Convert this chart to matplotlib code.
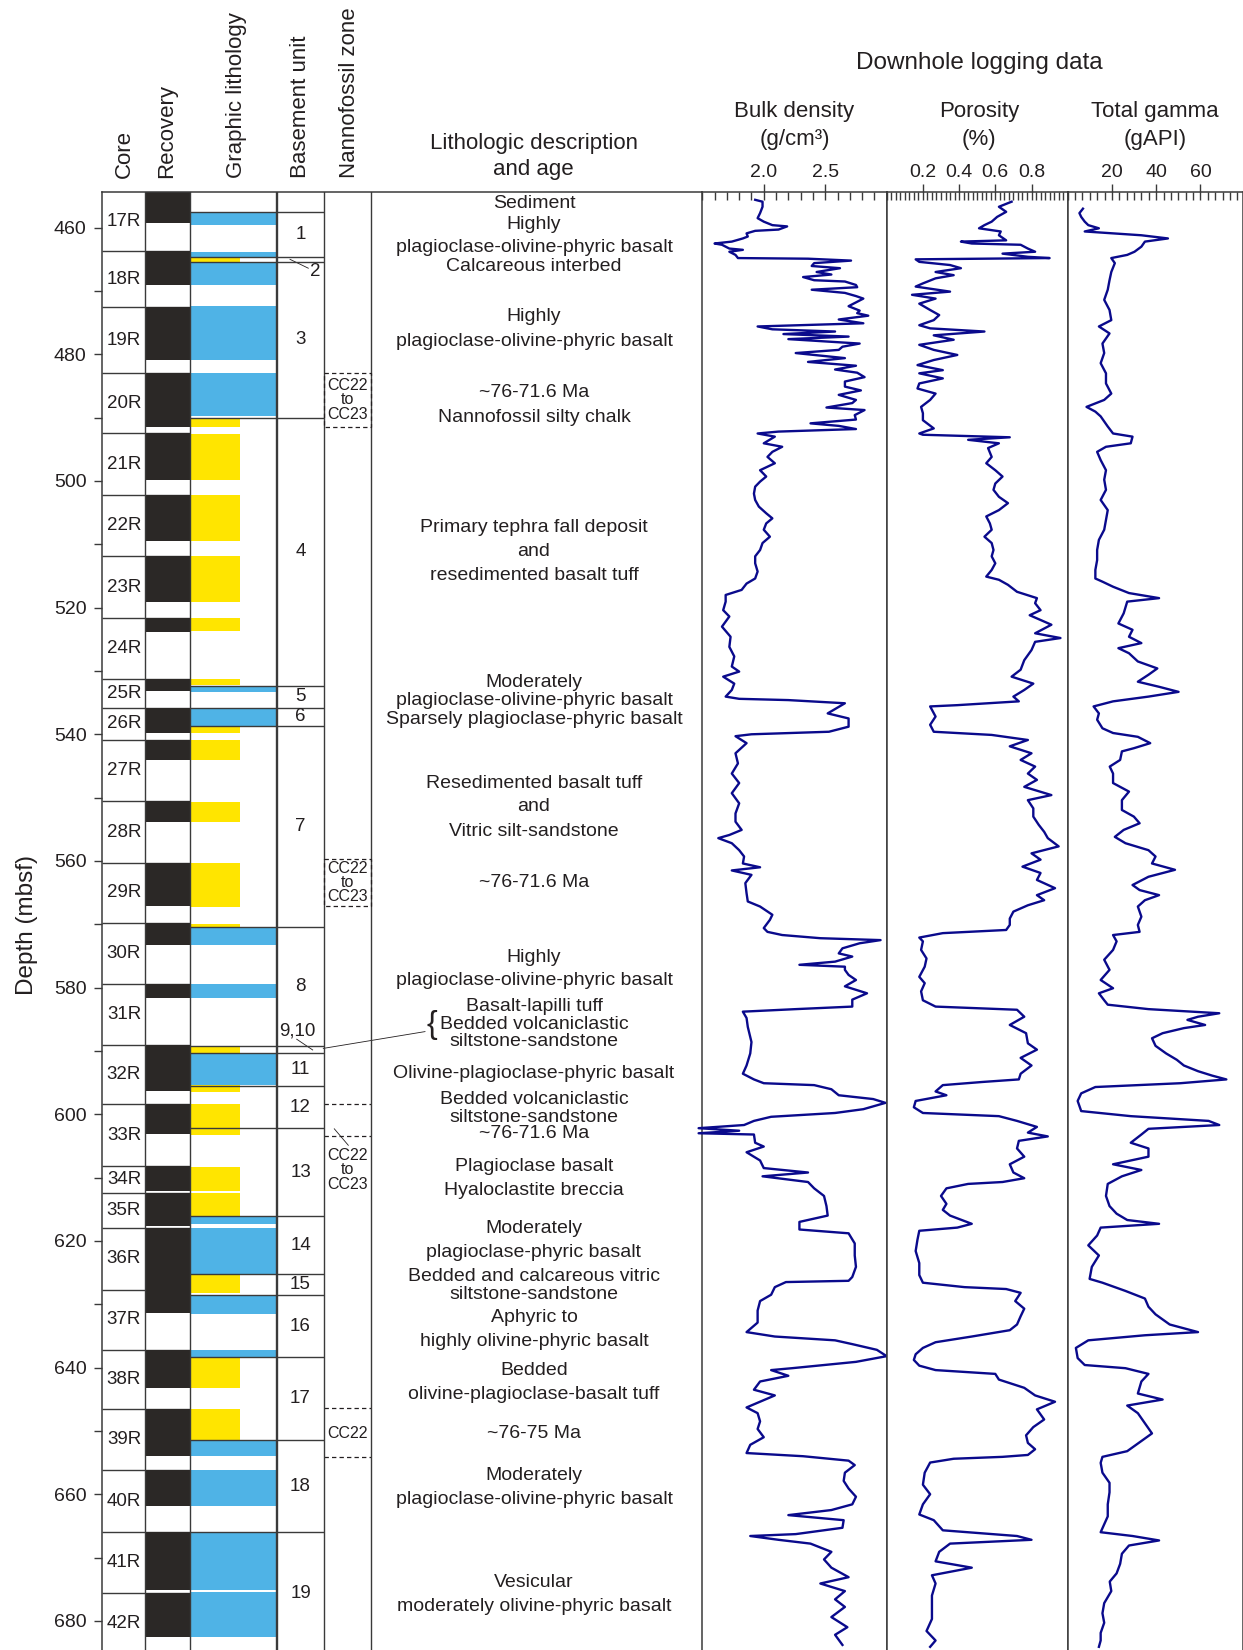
import matplotlib.pyplot as plt
from matplotlib.patches import Rectangle
from matplotlib.ticker import MultipleLocator

plt.rcParams['font.family'] = ['Liberation Sans', 'DejaVu Sans']

# ---- data (depths in mbsf) ----
core_names = ['17R', '18R', '19R', '20R', '21R', '22R', '23R', '24R', '25R', '26R', '27R', '28R', '29R',
              '30R', '31R', '32R', '33R', '34R', '35R', '36R', '37R', '38R', '39R', '40R', '41R', '42R']
core_top = [454.3, 463.7, 472.6, 482.9, 492.5, 502.2, 511.9, 521.6, 531.2, 535.8, 540.9, 550.6, 560.3,
            569.8, 579.4, 589.0, 598.4, 608.2, 612.4, 617.9, 627.7, 637.2, 646.5, 656.2, 666.0, 675.6]
core_bot = core_top[1:] + [685.3]

rec_top = [454.3, 463.7, 472.6, 482.9, 492.5, 502.2, 511.9, 521.6, 531.2, 535.8, 540.9, 550.6, 560.3,
           569.8, 579.4, 589.0, 598.4, 608.2, 612.4, 617.9, 627.7, 637.2, 646.5, 656.2, 666.0, 675.6]
rec_bot = [459.2, 469.1, 480.9, 491.4, 499.8, 509.4, 519.05, 523.8, 533.2, 539.8, 544.05, 553.8, 567.1,
           573.2, 581.6, 596.3, 603.05, 612.1, 617.6, 627.7, 631.4, 643.2, 654.0, 661.8, 675.2, 682.5]

basalt_top = [457.6, 463.9, 465.6, 472.4, 483.0, 532.4, 535.8, 570.6, 579.4, 590.3, 616.2, 617.9,
              628.6, 637.2, 651.5, 656.2, 666.0, 675.5]
basalt_bot = [459.5, 464.7, 469.05, 480.9, 489.7, 533.3, 538.7, 573.2, 581.6, 595.45, 617.4, 625.2,
              631.6, 638.4, 654.0, 661.8, 675.2, 682.5]
sed_top = [464.7, 490.1, 492.6, 502.2, 511.9, 521.7, 531.2, 538.7, 540.9, 550.7, 560.4, 569.9, 589.35,
           595.45, 598.4, 608.3, 612.4, 625.4, 638.4, 646.5]
sed_bot = [465.4, 491.4, 499.8, 509.4, 519.05, 523.7, 532.2, 539.8, 544.05, 553.8, 567.2, 570.6, 590.3,
           596.5, 603.2, 612.1, 616.0, 628.3, 643.2, 651.4]

unit_names = ['1', '2', '3', '4', '5', '6', '7', '8', '9,10', '11', '12', '13', '14', '15', '16',
              '17', '18', '19']
unit_top = [457.6, 464.7, 465.4, 490.0, 532.4, 535.8, 538.7, 570.5, 589.2, 590.3, 595.6, 602.2, 616.1,
            625.2, 628.5, 638.4, 651.5, 666.0]
unit_bot = unit_top[1:] + [685.3]

zone_box_top = [482.9, 559.7]
zone_box_bot = [491.5, 567.1]
zone_box_text = ['CC22\nto\nCC23', 'CC22\nto\nCC23']
zone_line_top = [598.4, 646.4]
zone_line_bot = [603.4, 654.2]
zone_line_text = ['CC22\nto\nCC23', 'CC22']
zone_line_text_depth = [608.8, 650.4]

desc_text = ['Sediment', 'Highly', 'plagioclase-olivine-phyric basalt', 'Calcareous interbed',
             'Highly', 'plagioclase-olivine-phyric basalt', '~76-71.6 Ma', 'Nannofossil silty chalk',
             'Primary tephra fall deposit', 'and', 'resedimented basalt tuff',
             'Moderately', 'plagioclase-olivine-phyric basalt', 'Sparsely plagioclase-phyric basalt',
             'Resedimented basalt tuff', 'and', 'Vitric silt-sandstone', '~76-71.6 Ma',
             'Highly', 'plagioclase-olivine-phyric basalt', 'Basalt-lapilli tuff', 'Bedded volcaniclastic',
             'siltstone-sandstone', 'Olivine-plagioclase-phyric basalt', 'Bedded volcaniclastic',
             'siltstone-sandstone', '~76-71.6 Ma', 'Plagioclase basalt', 'Hyaloclastite breccia',
             'Moderately', 'plagioclase-phyric basalt', 'Bedded and calcareous vitric', 'siltstone-sandstone',
             'Aphyric to', 'highly olivine-phyric basalt', 'Bedded', 'olivine-plagioclase-basalt tuff',
             '~76-75 Ma', 'Moderately', 'plagioclase-olivine-phyric basalt', 'Vesicular',
             'moderately olivine-phyric basalt']
desc_depth = [456.2, 459.5, 463.2, 466.15, 474.1, 478.0, 486.1, 489.9, 507.4, 511.2, 515.0, 531.8, 534.65,
              537.6, 547.8, 551.4, 555.3, 563.4, 575.2, 578.9, 583.0, 585.85, 588.5, 593.5, 597.65, 600.5,
              603.1, 608.3, 612.1, 618.1, 621.8, 625.6, 628.4, 632.1, 635.9, 640.4, 644.2, 650.4, 657.0,
              660.8, 674.0, 677.8]

bd_depth = [455.6, 455.9, 456.7, 457.7, 458.5, 459.05, 459.6, 459.8, 460.3, 460.5, 460.9, 461.4, 461.7,
            462.2, 462.5, 462.7, 463.3, 463.5, 463.8, 464.3, 464.8, 464.9, 465.2, 465.6, 466.05, 466.4,
            467.0, 467.4, 467.8, 468.3, 468.5, 469.05, 469.4, 469.8, 470.3, 470.8, 471.2, 471.7, 472.4,
            473.1, 473.5, 473.9, 474.5, 475.1, 475.6, 476.05, 476.4, 476.8, 477.2, 477.6, 478.3, 478.8,
            479.3, 479.8, 480.6, 481.2, 481.8, 482.4, 482.9, 483.6, 484.3, 485.1, 485.7, 486.4, 487.2,
            487.7, 488.4, 488.8, 489.6, 490.3, 490.9, 491.3, 491.8, 492.2, 492.5, 493.0, 494.05, 494.6,
            495.4, 496.2, 497.2, 498.3, 499.3, 500.1, 500.9, 502.0, 503.0, 504.05, 505.1, 505.9, 506.7,
            507.7, 508.8, 509.8, 510.9, 511.9, 513.0, 514.3, 515.4, 516.2, 517.2, 518.0, 519.05, 520.4,
            521.4, 523.0, 524.6, 526.2, 527.7, 529.3, 530.1, 530.9, 532.0, 533.0, 534.05, 534.4, 534.6,
            535.1, 536.7, 537.5, 538.8, 539.6, 540.0, 540.3, 541.4, 543.0, 544.6, 546.2, 547.7, 549.3,
            550.9, 552.5, 553.8, 555.1, 555.9, 556.4, 557.2, 558.3, 559.3, 560.4, 561.0, 561.5, 562.2,
            563.5, 565.1, 566.4, 567.2, 568.5, 569.3, 570.6, 571.2, 571.7, 572.2, 572.5, 573.0, 573.8,
            574.6, 575.1, 575.9, 576.4, 576.7, 577.2, 578.0, 578.8, 579.8, 580.9, 581.9, 583.0, 583.4,
            583.8, 584.8, 586.2, 588.6, 590.4, 592.3, 593.6, 594.5, 595.1, 595.4, 596.05, 597.0, 597.6,
            598.2, 599.2, 599.8, 600.4, 601.05, 601.7, 602.2, 602.6, 603.0, 603.2, 604.5, 605.1, 606.0,
            607.3, 608.5, 609.2, 609.8, 610.7, 611.7, 612.9, 614.5, 616.0, 617.0, 618.2, 618.8, 620.4,
            622.3, 624.1, 625.7, 626.3, 626.5, 627.3, 628.5, 629.5, 631.0, 632.9, 634.4, 635.1, 635.7,
            636.3, 637.2, 638.2, 639.1, 640.1, 640.4, 641.3, 642.2, 643.5, 644.4, 645.4, 646.3, 647.2,
            648.5, 649.7, 651.0, 652.2, 653.5, 654.0, 654.7, 655.4, 656.6, 657.9, 659.1, 660.4, 661.6,
            662.5, 663.3, 664.1, 665.3, 666.3, 666.6, 667.2, 667.8, 669.1, 670.3, 671.6, 673.1, 674.1,
            675.3, 676.6, 677.8, 679.4, 681.0, 682.2, 683.8]
bd_val = [1.93, 1.99, 1.99, 1.97, 1.95, 2.00, 2.07, 2.19, 2.12, 1.93, 1.86, 1.87, 1.83,
          1.74, 1.60, 1.66, 1.72, 1.83, 1.72, 1.77, 1.79, 2.36, 2.71, 2.41, 2.39, 2.62,
          2.43, 2.55, 2.32, 2.41, 2.66, 2.75, 2.76, 2.39, 2.66, 2.75, 2.81, 2.76, 2.69,
          2.78, 2.76, 2.85, 2.61, 2.81, 1.95, 2.07, 2.58, 2.16, 2.69, 2.20, 2.78, 2.64,
          2.61, 2.26, 2.66, 2.36, 2.75, 2.58, 2.76, 2.82, 2.66, 2.66, 2.79, 2.61, 2.75,
          2.72, 2.51, 2.82, 2.74, 2.75, 2.38, 2.61, 2.75, 2.12, 1.95, 2.09, 2.00, 2.15,
          2.07, 2.03, 2.09, 1.97, 2.02, 1.97, 1.93, 1.92, 1.93, 1.96, 2.02, 2.07, 2.02,
          2.00, 2.05, 1.99, 1.97, 1.93, 1.93, 1.95, 1.93, 1.86, 1.82, 1.69, 1.69, 1.67,
          1.72, 1.66, 1.73, 1.72, 1.76, 1.74, 1.80, 1.67, 1.76, 1.74, 1.69, 1.80, 2.20,
          2.66, 2.52, 2.69, 2.69, 2.53, 1.90, 1.77, 1.86, 1.77, 1.79, 1.74, 1.80, 1.74,
          1.80, 1.77, 1.77, 1.82, 1.72, 1.63, 1.74, 1.80, 1.84, 1.83, 1.97, 1.74, 1.90,
          1.85, 1.86, 1.87, 1.97, 2.07, 2.05, 2.00, 2.03, 2.15, 2.46, 2.95, 2.78, 2.64,
          2.61, 2.72, 2.58, 2.29, 2.66, 2.66, 2.69, 2.75, 2.66, 2.84, 2.72, 2.72, 2.26,
          1.83, 1.86, 1.87, 1.90, 1.89, 1.86, 1.83, 1.92, 2.00, 2.41, 2.55, 2.61, 2.89,
          2.99, 2.81, 2.58, 2.06, 1.92, 1.84, 1.47, 1.80, 1.47, 1.92, 1.93, 2.00, 1.86,
          1.97, 2.00, 2.36, 1.99, 2.36, 2.41, 2.49, 2.51, 2.52, 2.29, 2.29, 2.69, 2.74,
          2.74, 2.75, 2.72, 2.69, 2.18, 2.09, 2.06, 1.97, 1.95, 1.95, 1.86, 2.09, 2.58,
          2.72, 2.92, 3.00, 2.75, 2.23, 2.06, 2.20, 1.97, 1.92, 2.09, 1.97, 1.86, 1.95,
          1.97, 1.95, 2.00, 1.89, 1.86, 2.32, 2.69, 2.74, 2.66, 2.65, 2.69, 2.75, 2.72,
          2.55, 2.20, 2.65, 2.64, 2.26, 1.89, 2.12, 2.38, 2.55, 2.49, 2.55, 2.69, 2.46,
          2.66, 2.58, 2.66, 2.55, 2.68, 2.58, 2.64]

por_depth = [455.9, 456.7, 457.5, 458.3, 459.05, 459.6, 460.1, 460.6, 461.2, 462.0, 462.2, 462.5, 462.7,
             463.3, 463.8, 464.1, 464.6, 464.8, 465.0, 465.4, 465.9, 466.4, 467.0, 467.5, 468.0, 468.8,
             469.3, 470.1, 470.6, 471.2, 472.0, 473.0, 473.8, 474.6, 475.4, 475.9, 476.4, 477.0, 477.7,
             478.5, 479.3, 480.1, 480.9, 481.7, 482.5, 483.0, 483.8, 484.6, 485.4, 486.2, 487.2, 488.3,
             489.3, 490.4, 491.7, 492.5, 492.7, 493.1, 493.5, 494.05, 494.8, 496.2, 497.2, 498.3, 499.3,
             500.4, 501.4, 502.5, 503.5, 504.6, 505.6, 506.7, 507.7, 508.8, 509.8, 510.9, 511.9, 513.0,
             514.05, 515.1, 515.6, 516.4, 517.5, 518.5, 519.3, 520.4, 521.2, 522.7, 524.05, 524.8, 525.4,
             526.7, 528.3, 529.8, 530.9, 532.0, 533.0, 534.05, 534.8, 535.4, 535.6, 537.2, 538.5, 539.6,
             540.1, 540.9, 541.9, 543.0, 544.05, 545.1, 546.2, 547.2, 548.3, 549.6, 550.4, 551.7, 553.0,
             554.3, 555.4, 556.4, 557.7, 558.8, 559.8, 560.9, 561.9, 563.0, 564.3, 565.4, 566.2, 567.0,
             568.0, 569.1, 570.1, 570.9, 571.4, 572.1, 572.7, 574.05, 575.4, 576.7, 578.3, 579.3, 580.6,
             582.0, 583.0, 583.5, 584.6, 585.9, 587.2, 588.8, 589.8, 591.1, 592.3, 593.6, 594.5, 594.9,
             595.4, 596.4, 597.0, 597.9, 598.9, 599.8, 600.3, 601.05, 602.0, 602.9, 603.5, 604.2, 605.4,
             606.7, 607.9, 609.2, 610.1, 610.7, 611.0, 611.7, 612.9, 614.15, 615.1, 616.0, 617.3, 617.9,
             618.4, 619.8, 621.6, 623.5, 625.4, 626.6, 627.3, 627.6, 628.2, 629.5, 630.7, 631.9, 633.2,
             634.1, 635.1, 636.0, 636.9, 637.9, 638.8, 639.7, 640.4, 641.0, 641.9, 643.2, 644.4, 645.4,
             646.6, 648.2, 649.4, 650.7, 651.9, 652.9, 653.8, 654.1, 654.4, 655.0, 656.6, 658.5, 660.0,
             661.6, 663.2, 664.1, 665.7, 666.6, 667.2, 667.8, 669.1, 670.6, 671.6, 672.8, 674.1, 676.0,
             677.8, 679.7, 681.6, 683.1, 684.1]
por_val = [0.69, 0.62, 0.66, 0.61, 0.58, 0.54, 0.51, 0.63, 0.62, 0.66, 0.41, 0.47, 0.74,
           0.78, 0.82, 0.64, 0.78, 0.90, 0.16, 0.18, 0.35, 0.41, 0.27, 0.37, 0.27, 0.20,
           0.16, 0.35, 0.14, 0.27, 0.18, 0.24, 0.29, 0.26, 0.18, 0.24, 0.54, 0.26, 0.37,
           0.18, 0.26, 0.39, 0.26, 0.17, 0.31, 0.18, 0.31, 0.18, 0.17, 0.27, 0.24, 0.19,
           0.20, 0.20, 0.26, 0.18, 0.20, 0.68, 0.45, 0.62, 0.56, 0.58, 0.55, 0.60, 0.64,
           0.60, 0.59, 0.62, 0.67, 0.62, 0.55, 0.57, 0.58, 0.54, 0.58, 0.59, 0.58, 0.60,
           0.58, 0.55, 0.62, 0.67, 0.72, 0.83, 0.82, 0.85, 0.79, 0.91, 0.82, 0.96, 0.82,
           0.80, 0.76, 0.74, 0.69, 0.81, 0.76, 0.70, 0.73, 0.39, 0.24, 0.27, 0.24, 0.26,
           0.58, 0.78, 0.68, 0.80, 0.74, 0.82, 0.78, 0.83, 0.76, 0.91, 0.78, 0.81, 0.81,
           0.84, 0.87, 0.89, 0.95, 0.80, 0.85, 0.75, 0.85, 0.83, 0.93, 0.83, 0.87, 0.78,
           0.70, 0.68, 0.68, 0.66, 0.31, 0.18, 0.20, 0.19, 0.22, 0.21, 0.18, 0.21, 0.19,
           0.20, 0.27, 0.72, 0.76, 0.68, 0.77, 0.78, 0.83, 0.74, 0.80, 0.74, 0.73, 0.53,
           0.31, 0.27, 0.33, 0.16, 0.15, 0.20, 0.62, 0.72, 0.83, 0.78, 0.89, 0.73, 0.72,
           0.76, 0.68, 0.70, 0.76, 0.64, 0.45, 0.33, 0.30, 0.33, 0.31, 0.35, 0.47, 0.39,
           0.18, 0.17, 0.16, 0.18, 0.18, 0.20, 0.43, 0.66, 0.74, 0.71, 0.76, 0.74, 0.72,
           0.68, 0.47, 0.27, 0.20, 0.16, 0.15, 0.18, 0.27, 0.60, 0.62, 0.76, 0.82, 0.93,
           0.83, 0.87, 0.81, 0.77, 0.78, 0.82, 0.78, 0.64, 0.37, 0.24, 0.21, 0.20, 0.24,
           0.20, 0.18, 0.26, 0.31, 0.72, 0.80, 0.35, 0.29, 0.27, 0.47, 0.25, 0.27, 0.25,
           0.25, 0.25, 0.22, 0.27, 0.24]

gr_depth = [457.0, 457.7, 458.3, 459.05, 459.6, 460.1, 460.6, 461.2, 461.7, 462.2, 463.0, 463.8, 464.3,
            464.8, 465.6, 467.0, 468.3, 469.8, 471.4, 473.0, 474.6, 475.6, 476.7, 478.3, 479.8, 481.4,
            483.0, 484.6, 486.2, 487.2, 488.3, 489.05, 489.8, 491.4, 492.5, 493.0, 494.05, 494.6, 495.4,
            496.7, 498.3, 499.8, 501.4, 503.0, 504.6, 506.2, 507.7, 509.3, 510.9, 512.5, 514.05, 515.4,
            515.9, 516.7, 517.7, 518.5, 519.05, 520.9, 522.5, 523.5, 524.6, 525.6, 526.4, 527.2, 528.5,
            529.6, 530.6, 531.7, 532.5, 533.3, 534.05, 534.8, 535.6, 536.7, 537.7, 539.05, 539.8, 540.4,
            541.4, 542.2, 542.7, 544.05, 545.1, 546.2, 547.7, 549.05, 550.4, 551.95, 553.0, 554.05, 555.1,
            556.2, 557.2, 558.3, 559.3, 560.4, 561.4, 562.5, 563.8, 564.6, 565.4, 566.2, 567.2, 568.8,
            570.1, 571.2, 571.7, 572.7, 574.05, 575.6, 577.2, 578.8, 580.1, 580.9, 582.0, 582.7, 583.4,
            584.05, 584.6, 585.1, 585.9, 586.4, 587.2, 588.0, 589.2, 590.4, 591.4, 592.3, 593.2, 593.9,
            594.5, 595.1, 595.7, 596.7, 597.9, 599.5, 600.3, 601.05, 601.7, 602.3, 603.2, 604.5, 605.4,
            606.7, 607.9, 608.8, 609.8, 611.0, 612.9, 614.5, 615.7, 616.7, 617.3, 617.9, 619.15, 620.7,
            622.3, 624.1, 626.0, 626.6, 627.9, 629.1, 630.4, 631.6, 633.2, 634.4, 634.9, 635.7, 636.9,
            638.5, 639.6, 640.1, 641.0, 642.2, 644.1, 645.05, 646.0, 647.2, 648.8, 650.4, 651.6, 653.2,
            654.1, 655.05, 656.6, 658.2, 659.7, 661.6, 663.5, 666.0, 666.6, 667.3, 668.1, 669.4, 671.0,
            672.5, 673.8, 675.3, 677.2, 678.8, 680.3, 681.9, 683.1, 684.1]
gr_val = [6.9, 5.3, 6.1, 7.7, 9.3, 14.1, 7.7, 33.3, 45.3, 34.9, 33.3, 30.2, 26.9,
          19.7, 21.3, 19.7, 18.9, 18.1, 16.5, 18.9, 19.7, 14.1, 18.9, 15.7, 16.5, 14.9,
          17.3, 17.3, 19.7, 16.5, 8.5, 12.5, 14.9, 18.1, 20.5, 29.3, 28.5, 17.3, 13.3,
          14.9, 17.3, 16.5, 17.3, 14.9, 18.1, 17.3, 16.5, 14.1, 13.3, 13.3, 12.5, 12.5,
          15.7, 20.5, 27.7, 41.3, 26.9, 25.3, 22.9, 29.3, 27.7, 33.3, 22.9, 27.7, 31.7,
          40.5, 36.5, 31.7, 41.3, 50.1, 36.5, 20.5, 11.7, 14.1, 13.3, 15.7, 20.5, 31.7,
          37.3, 29.9, 24.5, 23.7, 19.0, 20.5, 20.5, 27.7, 24.5, 24.5, 29.9, 32.5, 25.3,
          21.3, 26.1, 36.5, 39.7, 38.1, 48.5, 36.5, 29.3, 32.5, 41.3, 34.9, 31.7, 33.3,
          31.7, 32.5, 20.5, 22.1, 20.5, 16.5, 18.9, 14.9, 20.5, 14.1, 16.5, 18.1, 36.5,
          68.5, 58.9, 54.1, 62.1, 52.5, 42.9, 38.1, 39.7, 44.5, 49.3, 52.5, 58.9, 65.3,
          71.7, 50.9, 12.5, 6.1, 4.5, 6.1, 28.5, 63.7, 68.5, 36.5, 33.3, 28.5, 36.5,
          36.5, 20.5, 33.3, 24.5, 18.1, 17.3, 18.9, 22.1, 26.9, 41.3, 14.9, 13.3, 9.3,
          14.1, 10.9, 9.9, 15.7, 26.1, 34.9, 36.5, 39.7, 46.1, 58.9, 34.9, 9.3, 3.7,
          4.5, 7.7, 26.1, 36.5, 33.3, 31.7, 42.9, 26.9, 31.7, 34.9, 38.1, 33.3, 26.9,
          15.7, 14.9, 15.7, 18.9, 18.9, 18.1, 18.1, 14.9, 29.3, 41.3, 27.7, 24.5, 23.7,
          22.1, 19.0, 19.7, 16.5, 15.7, 16.5, 14.9, 14.9, 14.1]

# ---- layout (figure pixels) ----
W, H = 1243, 1650
TOP = 191.7
D_TOP, D_BOT = 454.32, 684.6
LINE = '#3a3a3a'
TXT = '#231f20'
CURVE = '#0a0a8c'
BLACK = '#2b2826'
BLUE = '#4fb3e6'
YELLOW = '#ffe500'

fig = plt.figure(figsize=(W / 100, H / 100), dpi=100)


def px_axes(x0, x1):
    return fig.add_axes([x0 / W, 0, (x1 - x0) / W, (H - TOP) / H])


def fig_text(x, y, s, **kw):
    kw.setdefault('color', TXT)
    fig.text(x / W, 1 - y / H, s, **kw)


# left part: core / recovery / lithology / units / zones / description
ax = px_axes(102, 702.3)
ax.set_xlim(102, 702.3)
ax.set_ylim(D_BOT, D_TOP)
for s in ['right', 'bottom']:
    ax.spines[s].set_visible(False)
for s in ['left', 'top']:
    ax.spines[s].set_color(LINE)
    ax.spines[s].set_linewidth(1.1)
ax.set_xticks([])
ax.yaxis.set_major_locator(MultipleLocator(20))
ax.yaxis.set_minor_locator(MultipleLocator(10))
ax.tick_params(axis='y', which='both', direction='out', length=6, width=1, color=LINE,
               labelsize=14, labelcolor=TXT, pad=5)

for xc in [145, 190, 324, 371]:
    ax.axvline(xc, color=LINE, lw=1.0, zorder=4)
ax.axvline(277, color=LINE, lw=1.7, zorder=4)

ax.hlines(core_top[1:], 102, 190, color=LINE, lw=1.0, zorder=1)
for name, t, b in zip(core_names, core_top, core_bot):
    ax.text(124, (t + b) / 2, name, ha='center', va='center', fontsize=13.5, color=TXT)
for t, b in zip(rec_top, rec_bot):
    ax.add_patch(Rectangle((145, t), 45, b - t, color=BLACK, lw=0, zorder=2))

for t, b in zip(basalt_top, basalt_bot):
    ax.add_patch(Rectangle((190, t), 87, b - t, color=BLUE, lw=0, zorder=2))
for t, b in zip(sed_top, sed_bot):
    ax.add_patch(Rectangle((190, t), 50, b - t, color=YELLOW, lw=0, zorder=2))

ax.hlines(unit_top, 190, 324, color=LINE, lw=1.0, zorder=3)
for name, t, b in zip(unit_names, unit_top, unit_bot):
    if name == '2':
        ax.text(315, 466.95, name, ha='center', va='center', fontsize=13.5, color=TXT)
        ax.plot([290, 308.3], [465.0, 466.4], color=TXT, lw=0.6)
    elif name == '9,10':
        ax.text(297.7, 586.9, name, ha='center', va='center', fontsize=13.5, color=TXT)
        ax.plot([296.7, 312.7], [588.15, 589.85], color=TXT, lw=0.6)
        ax.plot([323.3, 425], [589.6, 586.95], color=TXT, lw=0.6)
    else:
        ax.text(300.5, (t + b) / 2, name, ha='center', va='center', fontsize=13.5, color=TXT)

dash = (0, (3.5, 2.5))
for t, b, s in zip(zone_box_top, zone_box_bot, zone_box_text):
    ax.add_patch(Rectangle((324, t), 47, b - t, fill=False, ec=TXT, lw=0.9, ls=dash, zorder=5))
    ax.text(347.5, (t + b) / 2, s, ha='center', va='center', fontsize=11.5, linespacing=0.95, color=TXT)
for t, b, s, d in zip(zone_line_top, zone_line_bot, zone_line_text, zone_line_text_depth):
    ax.hlines([t, b], 324, 371, color=TXT, lw=0.9, linestyles=dash)
    ax.text(347.5, d, s, ha='center', va='center', fontsize=11.5, linespacing=0.95, color=TXT)
ax.plot([334.3, 348.3], [602.3, 604.9], color=TXT, lw=0.6)

for s, d in zip(desc_text, desc_depth):
    ax.text(534, d, s, ha='center', va='center', fontsize=14, color=TXT)
ax.text(432, 585.9, '{', ha='center', va='center', fontsize=23, color=TXT)

# logging tracks
tracks = [
    (702.3, 886.7, bd_depth, bd_val, (1.5, 3.0), [2.0, 2.5], ['2.0', '2.5'], 0.1),
    (886.7, 1067.7, por_depth, por_val, (0.0, 1.0), [0.2, 0.4, 0.6, 0.8], ['0.2', '0.4', '0.6', '0.8'], 0.025),
    (1067.7, 1242.5, gr_depth, gr_val, (0, 79), [20, 40, 60], ['20', '40', '60'], 10 / 3),
]
for x0, x1, dep, val, lim, maj, lab, mnr in tracks:
    tax = px_axes(x0, x1)
    tax.plot(val, dep, color=CURVE, lw=1.7, clip_on=False, zorder=3)
    tax.set_xlim(*lim)
    tax.set_ylim(D_BOT, D_TOP)
    tax.spines['bottom'].set_visible(False)
    for s in ['left', 'right', 'top']:
        tax.spines[s].set_color(LINE)
        tax.spines[s].set_linewidth(1.1)
    tax.set_yticks([])
    tax.xaxis.tick_top()
    tax.set_xticks(maj)
    tax.set_xticklabels(lab)
    tax.xaxis.set_minor_locator(MultipleLocator(mnr))
    tax.tick_params(axis='x', which='major', direction='inout', length=12, width=1, color=LINE,
                    labelsize=14, labelcolor=TXT, pad=2)
    tax.tick_params(axis='x', which='minor', direction='in', length=5.5, width=1, color=LINE)

# headers
fig_text(27, 925, 'Depth (mbsf)', rotation=90, ha='center', va='center', fontsize=17.5)
for x, s in [(124.2, 'Core'), (166.3, 'Recovery'), (236.8, 'Graphic lithology'),
             (301, 'Basement unit'), (349.4, 'Nannofossil zone')]:
    fig_text(x, 178, s, rotation=90, ha='center', va='bottom', fontsize=16)
fig_text(533.6, 143, 'Lithologic description', ha='center', va='center', fontsize=16)
fig_text(533.6, 169.5, 'and age', ha='center', va='center', fontsize=16)
fig_text(979.7, 63, 'Downhole logging data', ha='center', va='center', fontsize=17.5)
for x, s1, s2 in [(794.4, 'Bulk density', '(g/cm\u00b3)'), (978.8, 'Porosity', '(%)'),
                  (1155, 'Total gamma', '(gAPI)')]:
    fig_text(x, 112, s1, ha='center', va='center', fontsize=16)
    fig_text(x, 139, s2, ha='center', va='center', fontsize=16)

fig.savefig('out.png', dpi=100)
